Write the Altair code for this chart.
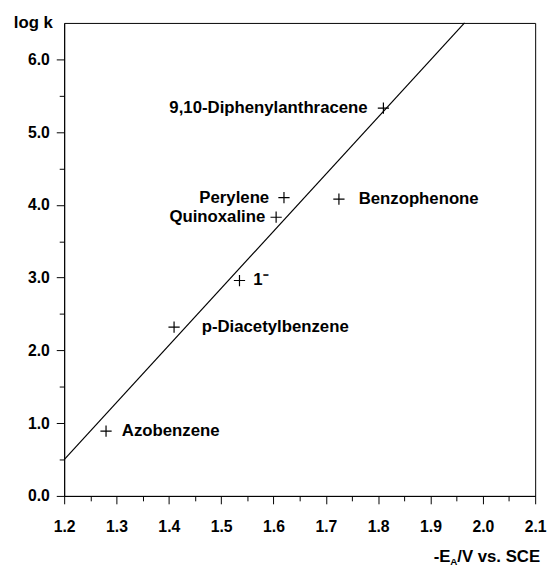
import altair as alt
import pandas as pd

# ---- data ----
names = ["Azobenzene", "p-Diacetylbenzene", "1\u207b", "Quinoxaline",
         "Perylene", "Benzophenone", "9,10-Diphenylanthracene"]
pot = [1.28, 1.41, 1.535, 1.605, 1.62, 1.725, 1.81]
logk = [0.89, 2.32, 2.96, 3.83, 4.10, 4.08, 5.33]

fit_x = [1.2, 1.965]
fit_y = [0.5, 6.5]

x_range = [1.2, 2.1]
y_range = [0.0, 6.5]

# major + minor tick positions
x_ticks = [1.2, 1.25, 1.3, 1.35, 1.4, 1.45, 1.5, 1.55, 1.6, 1.65, 1.7, 1.75,
           1.8, 1.85, 1.9, 1.95, 2.0, 2.05, 2.1]
y_ticks = [0, 0.5, 1, 1.5, 2, 2.5, 3, 3.5, 4, 4.5, 5, 5.5, 6]

pts = pd.DataFrame({"name": names, "x": pot, "y": logk})
fit = pd.DataFrame({"x": fit_x, "y": fit_y})

FONT = "Liberation Sans"
W, H = 478, 480

xs = alt.Scale(domain=x_range, nice=False, zero=False)
ys = alt.Scale(domain=y_range, nice=False, zero=False)

x_minor_test = "abs(datum.value * 10 - round(datum.value * 10)) > 0.01"
y_minor_test = "abs(datum.value - round(datum.value)) > 0.01"

x_axis = alt.Axis(
    values=x_ticks, title=None,
    labelExpr=f"({x_minor_test}) ? '' : format(datum.value, '.1f')",
    tickSize={"condition": {"test": x_minor_test, "value": 5}, "value": 8},
    labelPadding=15, labelFontSize=16, labelFontWeight="bold",
    labelFont=FONT, grid=False, domainColor="black", tickColor="black",
    labelColor="black", orient="bottom", labelFlush=False)
y_axis = alt.Axis(
    values=y_ticks, title="log k",
    labelExpr=f"({y_minor_test}) ? '' : format(datum.value, '.1f')",
    tickSize={"condition": {"test": y_minor_test, "value": 5}, "value": 8},
    labelPadding=7, labelFontSize=16, labelFontWeight="bold",
    labelFont=FONT, grid=False, domainColor="black", tickColor="black",
    labelColor="black", orient="left",
    titleAngle=0, titleAlign="right", titleBaseline="middle",
    titleX=-12, titleY=0, titleFontSize=17, titleFont=FONT,
    titleFontWeight="bold", titleColor="black", labelFlush=False)


def X(f):
    return alt.X(f, scale=xs, axis=x_axis)


def Y(f):
    return alt.Y(f, scale=ys, axis=y_axis)


line = alt.Chart(fit).mark_line(color="black", strokeWidth=1.2).encode(
    x=X("x:Q"), y=Y("y:Q"))

cross = alt.Chart(pts).mark_point(
    shape="M-1,0L1,0M0,-1L0,1", size=130, filled=False,
    color="black", strokeWidth=1.2, opacity=1
).encode(x=X("x:Q"), y=Y("y:Q"))

# label placement (style), keyed by name
offsets = {
    "Azobenzene": (16, "left"),
    "p-Diacetylbenzene": (28, "left"),
    "1\u207b": (14, "left"),
    "Quinoxaline": (-11, "right"),
    "Perylene": (-15, "right"),
    "Benzophenone": (20, "left"),
    "9,10-Diphenylanthracene": (-16, "right"),
}
labels = []
for n in names:
    dx, al = offsets[n]
    labels.append(
        alt.Chart(pts).transform_filter(alt.datum.name == n).mark_text(
            dx=dx, align=al, baseline="middle", font=FONT, fontSize=17,
            fontWeight="bold", color="black"
        ).encode(x=X("x:Q"), y=Y("y:Q"), text="name:N")
    )

# x-axis title with subscript, placed below the plot
t_main = alt.Chart(pd.DataFrame({"t": ["/V vs. SCE"]})).mark_text(
    align="right", baseline="alphabetic", font=FONT, fontSize=17,
    fontWeight="bold", color="black"
).encode(x=alt.value(W + 5), y=alt.value(H + 67), text="t:N")
t_sub = alt.Chart(pd.DataFrame({"t": ["A"]})).mark_text(
    align="right", baseline="alphabetic", font=FONT, fontSize=10,
    fontWeight="bold", color="black"
).encode(x=alt.value(W - 79), y=alt.value(H + 70), text="t:N")
t_e = alt.Chart(pd.DataFrame({"t": ["-E"]})).mark_text(
    align="right", baseline="alphabetic", font=FONT, fontSize=17,
    fontWeight="bold", color="black"
).encode(x=alt.value(W - 86), y=alt.value(H + 67), text="t:N")

chart = alt.layer(line, cross, *labels, t_main, t_sub, t_e).properties(
    width=W, height=H,
    background="white",
    autosize=alt.AutoSizeParams(type="none"),
    padding={"left": 57, "top": 11, "right": 12, "bottom": 70},
).configure_view(stroke="black", strokeWidth=1)

chart.save("out.html", embed_options={"renderer": "svg", "actions": False})
